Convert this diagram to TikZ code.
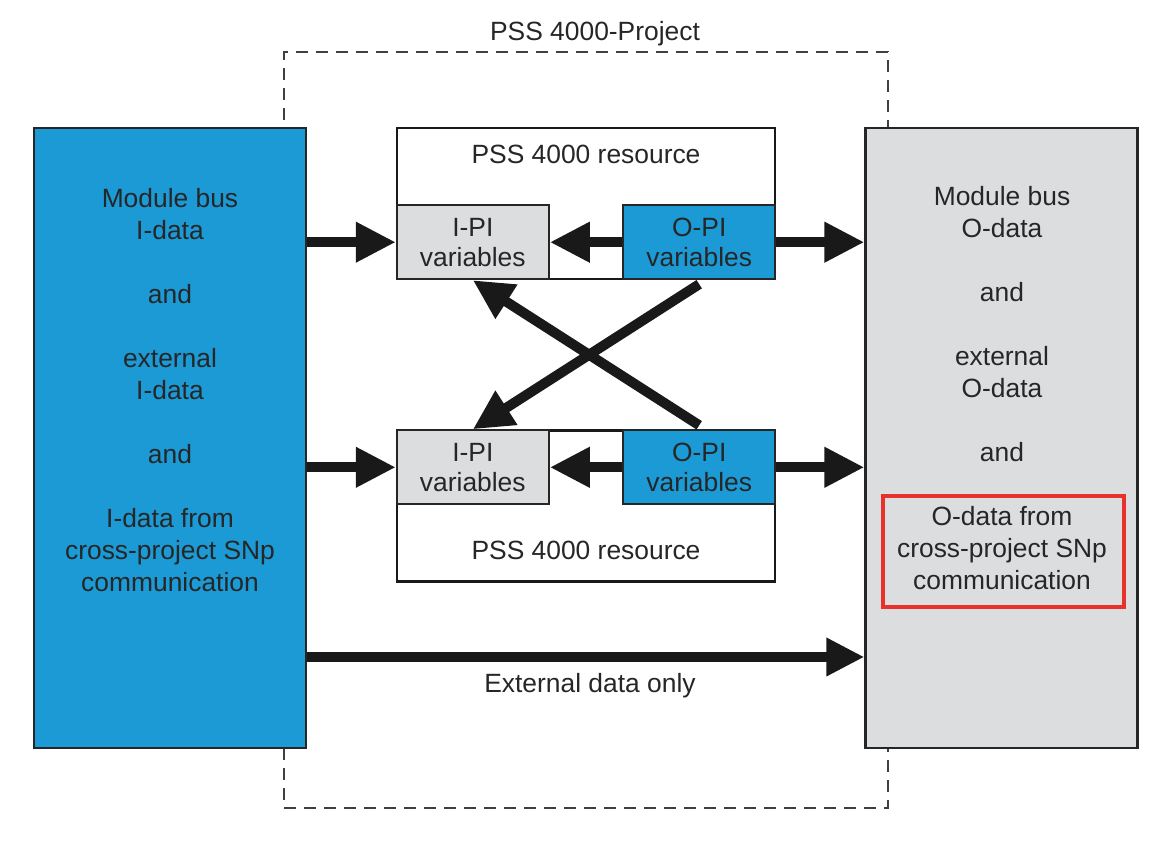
\documentclass[tikz,border=0pt]{standalone}
\usepackage{fontspec}
\setmainfont{Liberation Sans}
\usetikzlibrary{arrows.meta,positioning,calc}
\definecolor{pssblue}{HTML}{1B9AD6}
\definecolor{pssgray}{HTML}{DCDDDF}
\definecolor{markred}{HTML}{E8312A}
\tikzset{
	txt/.style={font=\fontsize{13.2pt}{16pt}\selectfont, text=black!85, align=center},
	sidebox/.style={draw=black!85, line width=1.1pt, minimum width=136pt, minimum height=310pt},
	resbox/.style={draw=black!90, line width=1.2pt, fill=white, minimum width=189pt, minimum height=75.5pt},
	pibox/.style={txt, draw=black!85, line width=1pt, minimum width=76pt, minimum height=37pt, inner sep=0pt,
		font=\fontsize{13.2pt}{15pt}\selectfont},
	bigarrow/.style={draw=black!90, line width=5pt, -{Triangle[length=20pt,width=19pt]}},
	projframe/.style={draw=black!75, line width=1pt, dash pattern=on 6pt off 4pt}
}
\begin{document}
\begin{tikzpicture}[x=0.5pt,y=-0.5pt]
	\useasboundingbox (0,0) rectangle (1172,844);
	% project frame
	\node[projframe, minimum width=302pt, minimum height=378pt] (proj) at (586,430) {};
	\node[txt, anchor=base] (projtitle) at (595,41) {PSS 4000-Project};
	% side boxes
	\node[sidebox, fill=pssblue] (lbox) at (170,438) {};
	\node[sidebox, fill=pssgray] (rbox) at (1001.5,438) {};
	\node[txt] (ltext) at (170,390) {Module bus\\I-data\\[16pt]and\\[16pt]external\\I-data\\[16pt]and\\[16pt]I-data from\\cross-project SNp\\communication};
	\node[txt] (rtext) at (1002,388) {Module bus\\O-data\\[16pt]and\\[16pt]external\\O-data\\[16pt]and\\[16pt]O-data from\\cross-project SNp\\communication};
	\node[draw=markred, line width=2pt, minimum width=120.5pt, minimum height=55.5pt] (mark) at (1003.5,551.5) {};
	% resources
	\node[resbox] (rest) at (586,203.5) {};
	\node[resbox] (resb) at (586,506) {};
	\node[txt, anchor=base] (restlabel) at (586,164) {PSS 4000 resource};
	\node[txt, anchor=base] (resblabel) at (586,559) {PSS 4000 resource};
	\node[pibox, fill=pssgray, anchor=south west] (ipt) at (rest.south west) {I-PI\\variables};
	\node[pibox, fill=pssblue, anchor=south east] (opt) at (rest.south east) {O-PI\\variables};
	\node[pibox, fill=pssgray, anchor=north west] (ipb) at (resb.north west) {I-PI\\variables};
	\node[pibox, fill=pssblue, anchor=north east] (opb) at (resb.north east) {O-PI\\variables};
	% arrows
	\draw[bigarrow] (lbox.east |- ipt.west) -- (ipt.west);
	\draw[bigarrow] (opt.west) -- (ipt.east);
	\draw[bigarrow] (opt.east) -- (rbox.west |- opt.east);
	\draw[bigarrow] (lbox.east |- ipb.west) -- (ipb.west);
	\draw[bigarrow] (opb.west) -- (ipb.east);
	\draw[bigarrow] (opb.east) -- (rbox.west |- opb.east);
	\draw[bigarrow] ($(opt.south)+(0,4)$) -- (ipb.north);
	\draw[bigarrow] ($(opb.north)+(0,-4)$) -- (ipt.south);
	\coordinate (extrow) at (0,657);
	\draw[bigarrow, -{Triangle[length=19pt,width=18pt]}] (lbox.east |- extrow) -- (rbox.west |- extrow);
	\node[txt, anchor=base] (extlabel) at (590,692) {External data only};
\end{tikzpicture}
\end{document}
